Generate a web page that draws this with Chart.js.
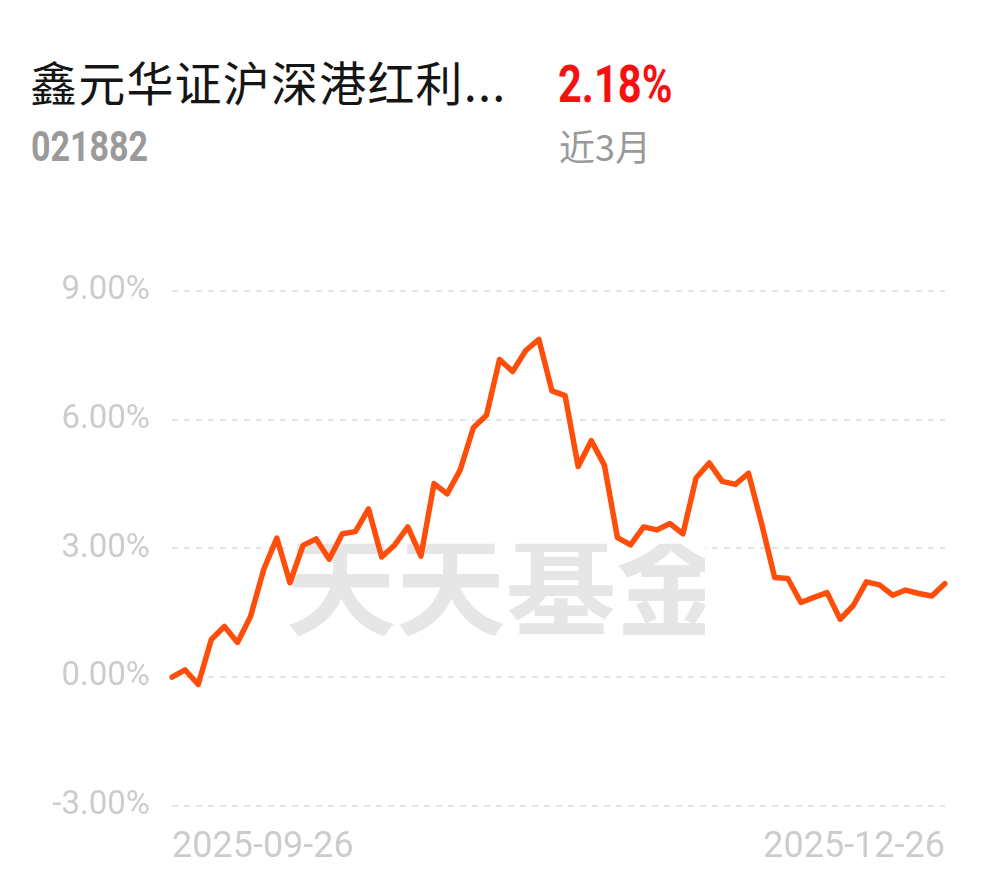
<!DOCTYPE html>
<html>
<head>
<meta charset="utf-8">
<script src="https://cdn.jsdelivr.net/npm/chart.js@4.4.1/dist/chart.umd.min.js"></script>
<style>
  body { margin: 0; background: #fff; width: 990px; height: 878px; overflow: hidden; position: relative; font-family: "Noto Sans CJK SC", sans-serif; }
  .txt { position: absolute; white-space: nowrap; line-height: 1; }
  #name { left: 30px; top: 57px; font-size: 47px; letter-spacing: 1.2px; color: #151515; }
  #code { left: 31px; top: 126px; font-size: 42px; color: #9a9a9a; font-weight: bold; font-family: Roboto, sans-serif; transform: scaleX(0.81); transform-origin: left top; }
  #ret { left: 558px; top: 59px; font-size: 52px; color: #f71010; font-weight: bold; font-family: Roboto, sans-serif; transform: scaleX(0.8); transform-origin: left top; }
  #period { left: 559px; top: 127px; font-size: 36px; color: #9a9a9a; }
  #wrap { position: absolute; left: 0; top: 249px; width: 990px; height: 629px; }
</style>
</head>
<body>
<div class="txt" id="name">鑫元华证沪深港红利...</div>
<div class="txt" id="code">021882</div>
<div class="txt" id="ret">2.18%</div>
<div class="txt" id="period">近3月</div>
<div id="wrap"><canvas id="myChart" width="990" height="629"></canvas></div>

<script>
// trading days, 2025-09-26 .. 2025-12-26
const dates = [
  '2025-09-26', '2025-09-29', '2025-09-30',
  '2025-10-09', '2025-10-10', '2025-10-13', '2025-10-14', '2025-10-15', '2025-10-16', '2025-10-17',
  '2025-10-20', '2025-10-21', '2025-10-22', '2025-10-23', '2025-10-24',
  '2025-10-27', '2025-10-28', '2025-10-29', '2025-10-30', '2025-10-31',
  '2025-11-03', '2025-11-04', '2025-11-05', '2025-11-06', '2025-11-07',
  '2025-11-10', '2025-11-11', '2025-11-12', '2025-11-13', '2025-11-14',
  '2025-11-17', '2025-11-18', '2025-11-19', '2025-11-20', '2025-11-21',
  '2025-11-24', '2025-11-25', '2025-11-26', '2025-11-27', '2025-11-28',
  '2025-12-01', '2025-12-02', '2025-12-03', '2025-12-04', '2025-12-05',
  '2025-12-08', '2025-12-09', '2025-12-10', '2025-12-11', '2025-12-12',
  '2025-12-15', '2025-12-16', '2025-12-17', '2025-12-18', '2025-12-19',
  '2025-12-22', '2025-12-23', '2025-12-24', '2025-12-25', '2025-12-26'
];

// cumulative return, %
const returns = [
  0.00, 0.17, -0.17, 0.88, 1.18, 0.81, 1.42, 2.51, 3.24, 2.20,
  3.07, 3.22, 2.75, 3.34, 3.39, 3.92, 2.80, 3.08, 3.50, 2.82,
  4.51, 4.27, 4.83, 5.81, 6.10, 7.40, 7.12, 7.61, 7.87, 6.67,
  6.56, 4.91, 5.51, 4.94, 3.25, 3.08, 3.50, 3.43, 3.58, 3.34,
  4.64, 4.99, 4.56, 4.49, 4.75, 3.58, 2.32, 2.30, 1.74, 1.86,
  1.97, 1.35, 1.67, 2.22, 2.15, 1.91, 2.03, 1.95, 1.89, 2.18
];

const yTicks = [-3, 0, 3, 6, 9];

// watermark behind the line
const watermark = {
  id: 'watermark',
  beforeDatasetsDraw(chart) {
    const ctx = chart.ctx;
    const a = chart.chartArea;
    ctx.save();
    ctx.beginPath();
    ctx.rect(a.left + 113, a.top + 253, 420, 95);
    ctx.clip();
    ctx.fillStyle = '#fff';
    ctx.fillRect(a.left + 113, a.top + 253, 420, 95);
    ctx.fillStyle = '#e6e6e6';
    ctx.font = '700 110px "Noto Sans CJK SC"';
    ctx.textBaseline = 'top';
    ctx.fillText('天天基金', a.left + 114, a.top + 239);
    ctx.restore();
  }
};

const ctx = document.getElementById('myChart').getContext('2d');
const chart = new Chart(ctx, {
  type: 'line',
  data: {
    labels: dates,
    datasets: [{
      data: returns,
      borderColor: '#ff4d0a',
      borderWidth: 5.5,
      pointRadius: 0,
      tension: 0,
      borderJoinStyle: 'round',
      borderCapStyle: 'round',
      fill: false
    }]
  },
  options: {
    responsive: false,
    devicePixelRatio: 1,
    animation: false,
    layout: { padding: { top: 18, right: 45, left: 0, bottom: 0 } },
    plugins: { legend: { display: false }, tooltip: { enabled: false } },
    scales: {
      x: {
        grid: { display: false },
        border: { display: false },
        ticks: {
          autoSkip: false,
          maxRotation: 0,
          align: 'inner',
          padding: 12,
          color: '#cccccc',
          font: { family: 'Roboto', size: 36 },
          callback: (v, i) => (i === 0 || i === dates.length - 1) ? dates[i] : ''
        },
        afterFit: s => { s.height = 72; }
      },
      y: {
        min: -3,
        max: 9,
        afterBuildTicks: s => { s.ticks = yTicks.map(v => ({ value: v })); },
        afterFit: s => { s.width = 172; },
        grid: { color: '#e4e4e4', lineWidth: 2, drawTicks: false },
        border: { display: false, dash: [6, 6] },
        ticks: {
          padding: 22,
          color: '#cccccc',
          font: { family: 'Roboto', size: 33 },
          callback: v => v.toFixed(2) + '%'
        }
      }
    }
  },
  plugins: [watermark]
});
</script>
</body>
</html>
